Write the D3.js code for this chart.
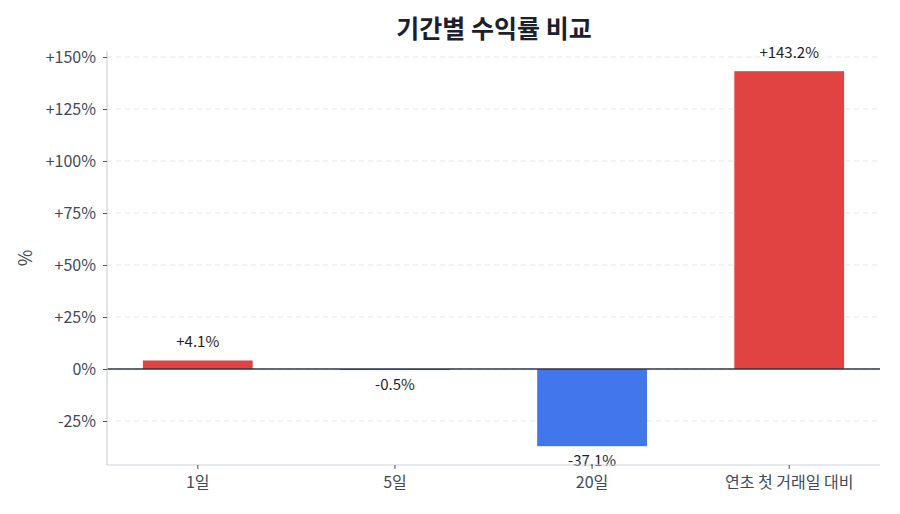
<!DOCTYPE html>
<html>
<head>
<meta charset="utf-8">
<script src="https://cdn.jsdelivr.net/npm/d3@7"></script>
<style>
  body { margin: 0; background: #fff; }
  text { font-family: "Noto Sans CJK KR", "Noto Sans", sans-serif; }
</style>
</head>
<body>
<div id="chart"></div>
<script>
// data
var categories = ["1일", "5일", "20일", "연초 첫 거래일 대비"];
var returns = [4.1, -0.5, -37.1, 143.2];
var yTicks = [-25, 0, 25, 50, 75, 100, 125, 150];

var W = 900, H = 514;
var margin = {top: 51, right: 20, bottom: 49, left: 107},
    width = W - margin.left - margin.right,
    height = H - margin.top - margin.bottom;

var svg = d3.select("#chart").append("svg")
    .attr("width", W).attr("height", H);

var g = svg.append("g")
    .attr("transform", "translate(" + margin.left + "," + margin.top + ")");

var x = d3.scaleBand().domain(categories).range([0, width])
    .paddingInner(0.443).paddingOuter(0.182);
var y = d3.scaleLinear().domain([-46.15, 152.9]).range([height, 0]);

var fmt = function(v) { return (v > 0 ? "+" : "") + v + "%"; };

// grid
g.selectAll(".grid").data(yTicks).enter().append("line")
    .attr("x1", 0).attr("x2", width)
    .attr("y1", function(d) { return y(d); })
    .attr("y2", function(d) { return y(d); })
    .attr("stroke", "#e5e7eb").attr("stroke-width", 1)
    .attr("stroke-dasharray", "5,4");

// bars
g.selectAll(".bar").data(returns).enter().append("rect")
    .attr("x", function(d, i) { return x(categories[i]); })
    .attr("width", x.bandwidth())
    .attr("y", function(d) { return y(Math.max(0, d)); })
    .attr("height", function(d) { return Math.abs(y(d) - y(0)); })
    .attr("fill", function(d) { return d >= 0 ? "#e03c3c" : "#3b73ea"; })
    .attr("fill-opacity", 0.97);

// zero line
g.append("line")
    .attr("x1", 0).attr("x2", width)
    .attr("y1", y(0)).attr("y2", y(0))
    .attr("stroke", "#2d3748").attr("stroke-width", 1.5);

// value labels
g.selectAll(".val").data(returns).enter().append("text")
    .attr("x", function(d, i) { return x(categories[i]) + x.bandwidth() / 2; })
    .attr("y", function(d) { return d >= 0 ? y(d) - 13 : y(d) + 8; })
    .attr("dy", function(d) { return d >= 0 ? "0" : "0.8em"; })
    .attr("text-anchor", "middle")
    .attr("font-size", 15)
    .attr("fill", "#1f2328")
    .text(fmt);

// axes
var yAxis = g.append("g").call(d3.axisLeft(y).tickValues(yTicks).tickFormat(fmt).tickSize(4).tickPadding(7));
var xAxis = g.append("g").attr("transform", "translate(0," + height + ")")
    .call(d3.axisBottom(x).tickSize(4).tickPadding(8));

[yAxis, xAxis].forEach(function(a) {
    a.select(".domain").attr("stroke", "#cbd2dc").attr("stroke-width", 1.2);
    a.selectAll(".tick line").attr("stroke", "#4a5568");
    a.selectAll(".tick text").attr("fill", "#3d4a5c").attr("font-size", 16)
        .style("font-family", "'Noto Sans CJK KR', 'Noto Sans', sans-serif");
});
yAxis.select(".domain").attr("d", "M0," + height + "V0");
xAxis.select(".domain").attr("d", "M0,0H" + width);

// y label
svg.append("text")
    .attr("transform", "translate(32," + (margin.top + height / 2) + ") rotate(-90)")
    .attr("text-anchor", "middle")
    .attr("font-size", 18)
    .attr("fill", "#3d4a5c")
    .text("%");

// title
svg.append("text")
    .attr("x", 494).attr("y", 38)
    .attr("text-anchor", "middle")
    .attr("font-size", 25).attr("font-weight", "bold")
    .attr("fill", "#1a202c")
    .text("기간별 수익률 비교");
</script>
</body>
</html>
